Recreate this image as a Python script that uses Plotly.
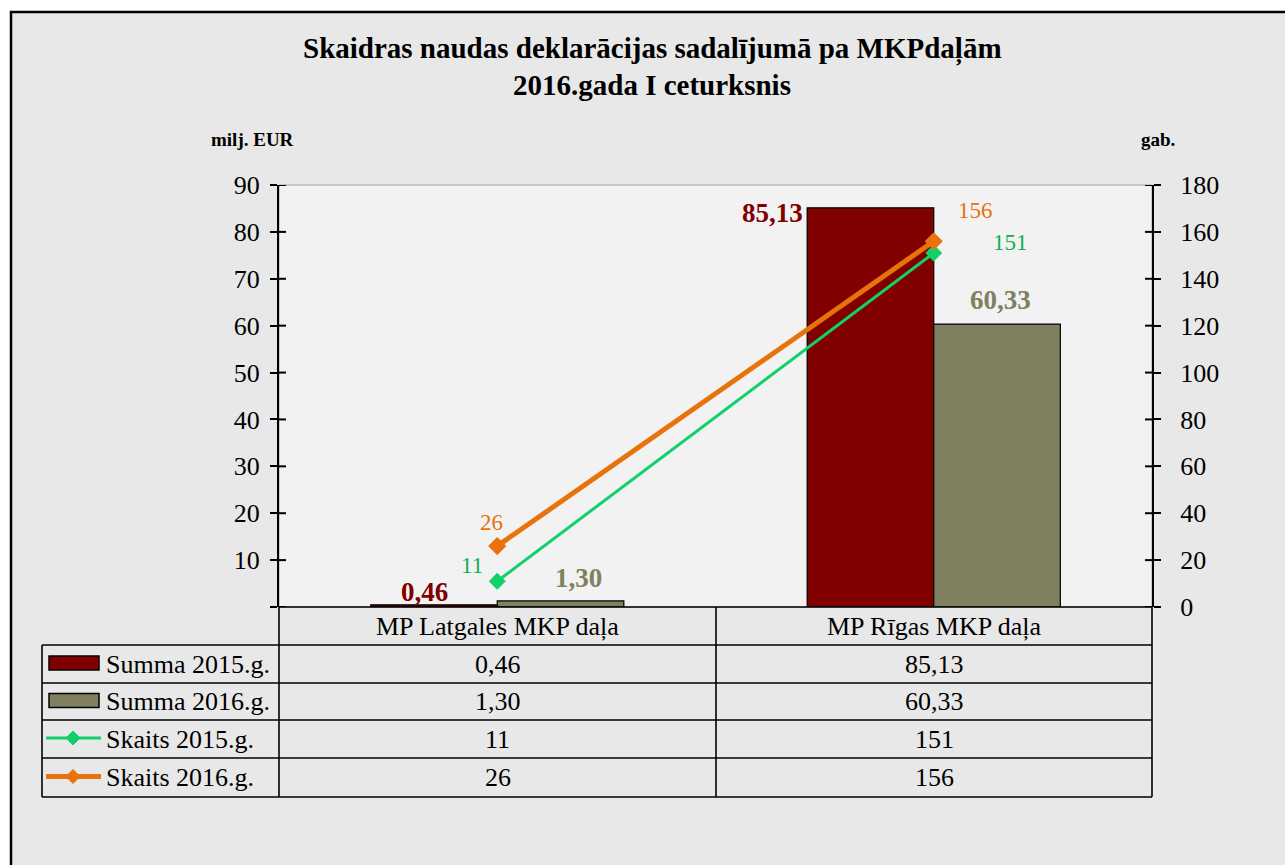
import plotly.graph_objects as go

# ---------------- data ----------------
categories = ["MP Latgales MKP daļa", "MP Rīgas MKP daļa"]
series_names = ["Summa 2015.g.", "Summa 2016.g.", "Skaits 2015.g.", "Skaits 2016.g."]
summa_2015 = [0.46, 85.13]
summa_2016 = [1.30, 60.33]
skaits_2015 = [11, 151]
skaits_2016 = [26, 156]
left_ticks = [0, 10, 20, 30, 40, 50, 60, 70, 80, 90]
right_ticks = [0, 20, 40, 60, 80, 100, 120, 140, 160, 180]
title_lines = ["Skaidras naudas deklarācijas sadalījumā pa MKPdaļām", "2016.gada I ceturksnis"]
left_unit = "milj. EUR"
right_unit = "gab."

# ---------------- style ----------------
W, H = 1285, 865
PL, PR, PT, PB = 279, 1152, 185, 607
FONT = "Liberation Serif, Times New Roman, serif"
C_MAROON = "#800000"
C_OLIVE = "#808060"
C_GREEN = "#12d068"
C_ORANGE = "#e8720c"
C_GREEN_TXT = "#0fb058"
C_ORANGE_TXT = "#e8720c"
colors = [C_MAROON, C_OLIVE, C_GREEN, C_ORANGE]


def fx(px):
    return (px - PL) / (PR - PL)


def fy(py):
    return (PB - py) / (PB - PT)


def fmt(v, dec):
    return f"{v:.{dec}f}".replace(".", ",")


def txt(x, y, text, size, color="black", xanchor="center", bold=False, **kw):
    d = dict(x=x, y=y, text=("<b>" + text + "</b>") if bold else text, showarrow=False,
             xanchor=xanchor, yanchor="middle",
             font=dict(family=FONT, size=size, color=color))
    d.setdefault("xref", "paper")
    d.setdefault("yref", "paper")
    d.update(kw)
    return d


fig = go.Figure()
fig.add_trace(go.Bar(x=categories, y=summa_2015, name=series_names[0],
                     marker=dict(color=C_MAROON, line=dict(color="black", width=1.2))))
fig.add_trace(go.Bar(x=categories, y=summa_2016, name=series_names[1],
                     marker=dict(color=C_OLIVE, line=dict(color="black", width=1.2))))
fig.add_trace(go.Scatter(x=categories, y=skaits_2015, name=series_names[2], yaxis="y2",
                         mode="lines+markers", line=dict(color=C_GREEN, width=3),
                         marker=dict(symbol="diamond", size=13, color=C_GREEN)))
fig.add_trace(go.Scatter(x=categories, y=skaits_2016, name=series_names[3], yaxis="y2",
                         mode="lines+markers", line=dict(color=C_ORANGE, width=5),
                         marker=dict(symbol="diamond", size=14, color=C_ORANGE)))

shapes = []
annotations = []

# outer chart area
shapes.append(dict(type="rect", xref="paper", yref="paper", layer="below",
                   x0=fx(11), x1=fx(1300), y0=fy(12), y1=fy(880),
                   fillcolor="#e8e8e8", line=dict(color="black", width=2.5)))
# plot area
shapes.append(dict(type="rect", xref="paper", yref="paper", layer="below",
                   x0=0, x1=1, y0=0, y1=1,
                   fillcolor="#f2f2f2", line=dict(color="#a0a0a0", width=1)))

# inward halves of the crossing tick marks
TK = 7
for v in left_ticks:
    shapes.append(dict(type="line", xref="paper", yref="y", x0=0, x1=fx(PL + TK), y0=v, y1=v,
                       line=dict(color="black", width=2)))
for v in right_ticks:
    shapes.append(dict(type="line", xref="paper", yref="y2", x0=fx(PR - TK), x1=1, y0=v, y1=v,
                       line=dict(color="black", width=2)))

# data labels on bars
bar_label_dx = [[-73, -161], [81, 67]]
bar_label_dy = [[13, -5], [23, 24]]
for s, (vals, col) in enumerate([(summa_2015, C_MAROON), (summa_2016, C_OLIVE)]):
    for i, v in enumerate(vals):
        annotations.append(txt(categories[i], v, fmt(v, 2), 27, col, bold=True, xref="x", yref="y",
                               xshift=bar_label_dx[s][i], yshift=bar_label_dy[s][i]))
# data labels on lines
line_label_dx = [[-25, 77], [-6, 42]]
line_label_dy = [[16, 10], [24, 31]]
for s, (vals, col) in enumerate([(skaits_2015, C_GREEN_TXT), (skaits_2016, C_ORANGE_TXT)]):
    for i, v in enumerate(vals):
        annotations.append(txt(categories[i], v, str(v), 23, col, xref="x", yref="y2",
                               xshift=line_label_dx[s][i], yshift=line_label_dy[s][i]))

# title
annotations.append(txt(fx(652), fy(49), title_lines[0], 29, bold=True))
annotations.append(txt(fx(652), fy(85), title_lines[1], 29, bold=True))
# units
annotations.append(txt(fx(252), fy(140), left_unit, 19, bold=True))
annotations.append(txt(fx(1158), fy(140), right_unit, 19, bold=True))

# ---------------- data table ----------------
row_y = [607, 645, 683, 720, 758, 797]
col_x = [42, 279, 716, 1152]
LW = 1.6
for k, y in enumerate(row_y):
    x0 = col_x[1] if k == 0 else col_x[0]
    shapes.append(dict(type="line", xref="paper", yref="paper", x0=fx(x0), x1=fx(col_x[3]),
                       y0=fy(y), y1=fy(y), line=dict(color="black", width=LW)))
shapes.append(dict(type="line", xref="paper", yref="paper", x0=fx(col_x[0]), x1=fx(col_x[0]),
                   y0=fy(row_y[1]), y1=fy(row_y[-1]), line=dict(color="black", width=LW)))
for x in col_x[1:]:
    shapes.append(dict(type="line", xref="paper", yref="paper", x0=fx(x), x1=fx(x),
                       y0=fy(row_y[0]), y1=fy(row_y[-1]), line=dict(color="black", width=LW)))

TFS = 26
for j, c in enumerate(categories):
    annotations.append(txt(fx((col_x[j + 1] + col_x[j + 2]) / 2), fy((row_y[0] + row_y[1]) / 2), c, TFS))
table_vals = [
    [fmt(v, 2) for v in summa_2015],
    [fmt(v, 2) for v in summa_2016],
    [str(v) for v in skaits_2015],
    [str(v) for v in skaits_2016],
]
for r in range(4):
    yc = (row_y[r + 1] + row_y[r + 2]) / 2
    annotations.append(txt(fx(104), fy(yc), series_names[r], TFS, xanchor="left"))
    for j in range(2):
        annotations.append(txt(fx((col_x[j + 1] + col_x[j + 2]) / 2), fy(yc), table_vals[r][j], TFS))
    if r < 2:
        shapes.append(dict(type="rect", xref="paper", yref="paper",
                           x0=fx(49), x1=fx(99), y0=fy(yc - 8), y1=fy(yc + 6),
                           fillcolor=colors[r], line=dict(color="black", width=1.5)))
    else:
        lw = 3 if r == 2 else 5
        shapes.append(dict(type="line", xref="paper", yref="paper",
                           x0=fx(46), x1=fx(101), y0=fy(yc - 1), y1=fy(yc - 1),
                           line=dict(color=colors[r], width=lw)))
        d = 7
        cx, cy = 73, yc - 1
        path = (f"M {fx(cx - d)} {fy(cy)} L {fx(cx)} {fy(cy - d)} "
                f"L {fx(cx + d)} {fy(cy)} L {fx(cx)} {fy(cy + d)} Z")
        shapes.append(dict(type="path", xref="paper", yref="paper", path=path,
                           fillcolor=colors[r], line=dict(color=colors[r], width=1)))

fig.update_layout(
    width=W, height=H,
    margin=dict(l=PL, r=W - PR, t=PT, b=H - PB, pad=0),
    paper_bgcolor="white",
    plot_bgcolor="rgba(0,0,0,0)",
    barmode="group", bargap=0.42, bargroupgap=0,
    showlegend=False,
    font=dict(family=FONT, color="black"),
    xaxis=dict(type="category", showticklabels=False, ticks="", showgrid=False,
               showline=False, zeroline=False),
    yaxis=dict(range=[0, 90], tickvals=left_ticks,
               ticktext=["" if v == 0 else str(v) for v in left_ticks],
               ticks="outside", ticklen=TK, tickwidth=2, tickcolor="black",
               ticklabelstandoff=5,
               showline=True, linecolor="black", linewidth=2,
               showgrid=False, zeroline=False,
               tickfont=dict(family=FONT, size=26, color="black")),
    yaxis2=dict(range=[0, 180], tickvals=right_ticks, overlaying="y", side="right",
                ticks="outside", ticklen=TK, tickwidth=2, tickcolor="black",
                ticklabelstandoff=14,
                showline=True, linecolor="black", linewidth=2,
                showgrid=False, zeroline=False,
                tickfont=dict(family=FONT, size=26, color="black")),
    shapes=shapes,
    annotations=annotations,
)

fig.write_html("out.html", config={"displayModeBar": False},
               post_script="document.body.style.margin='0';document.body.style.overflow='hidden';")
